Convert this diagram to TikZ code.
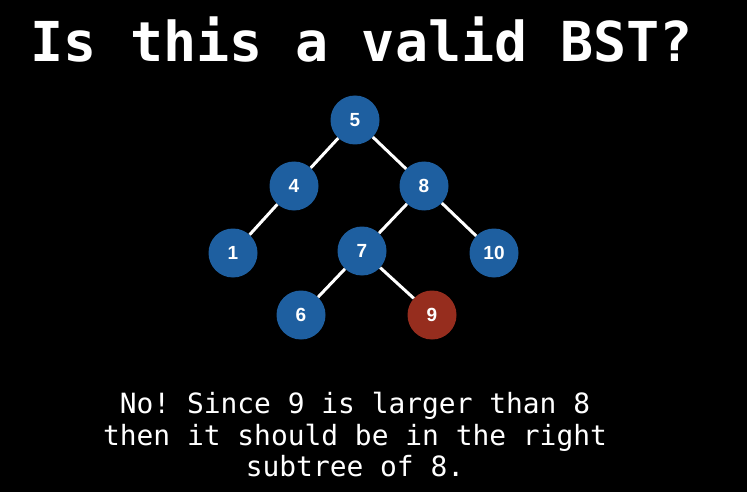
\documentclass[tikz,border=0pt]{standalone}
\usepackage{fontspec}
\setmainfont{DejaVu Sans Mono}
\newfontfamily\labelfont{Liberation Sans}
\definecolor{nodeblue}{RGB}{30,95,160}
\definecolor{nodered}{RGB}{150,45,30}
\frenchspacing
\tikzset{
  bstnode/.style={circle, fill=nodeblue, minimum size=49pt, inner sep=0pt,
    text=white, font=\labelfont\bfseries\fontsize{19}{22}\selectfont},
  badnode/.style={bstnode, fill=nodered},
  edge/.style={draw=white, line width=3pt}
}
\begin{document}
\begin{tikzpicture}[x=1pt,y=-1pt]
\fill[black] (0,0) rectangle (747,492);
\useasboundingbox (0,0) rectangle (747,492);
\node[anchor=base, text=white, font=\bfseries\fontsize{55}{60}\selectfont] (title) at (362,62) {Is this a valid BST?};
\node[bstnode] (n5) at (355,120) {5};
\node[bstnode] (n4) at (294,186) {4};
\node[bstnode] (n8) at (424,186) {8};
\node[bstnode] (n1) at (233,253) {1};
\node[bstnode] (n7) at (362,251) {7};
\node[bstnode] (n10) at (494,253) {10};
\node[bstnode] (n6) at (301,315) {6};
\node[badnode] (n9) at (432,315) {9};
\draw[edge] (n5) -- (n4);
\draw[edge] (n5) -- (n8);
\draw[edge] (n4) -- (n1);
\draw[edge] (n8) -- (n7);
\draw[edge] (n8) -- (n10);
\draw[edge] (n7) -- (n6);
\draw[edge] (n7) -- (n9);
\node[align=center, text=white, inner sep=0pt, font=\fontsize{27.9}{31.5}\selectfont] (msg) at (355,435) {No! Since 9 is larger than 8\\then it should be in the right\\subtree of 8.};
\end{tikzpicture}
\end{document}
